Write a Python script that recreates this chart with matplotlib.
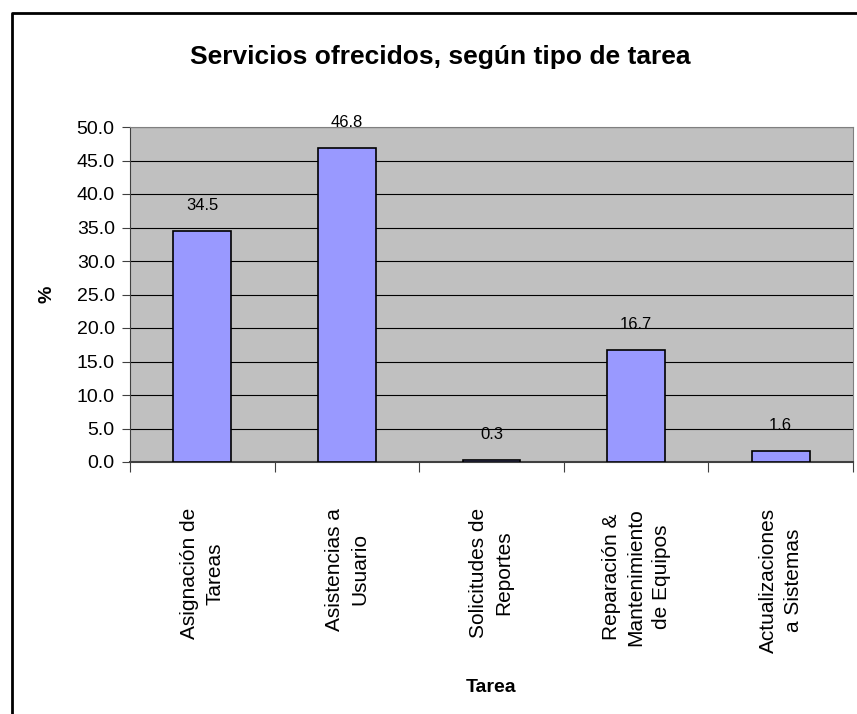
import matplotlib.pyplot as plt
from matplotlib.lines import Line2D
import numpy as np

plt.rcParams['font.family'] = ['Liberation Sans', 'DejaVu Sans']

categorias = ["Asignación de\nTareas", "Asistencias a\nUsuario", "Solicitudes de\nReportes",
              "Reparación &\nMantenimiento\nde Equipos", "Actualizaciones\na Sistemas"]
porcentajes = [34.5, 46.8, 0.3, 16.7, 1.6]
yticks = np.arange(0, 50.1, 5.0)

W, H = 857, 714
fig = plt.figure(figsize=(W / 100, H / 100), dpi=100)
fig.patch.set_facecolor('white')
# marco exterior (solo arriba e izquierda se ven)
fig.add_artist(Line2D([12 / W, 12 / W, 1], [0, 1 - 13 / H, 1 - 13 / H], transform=fig.transFigure,
                      color='black', linewidth=2.0))

ax = fig.add_axes([130 / W, (H - 462) / H, (853 - 130) / W, (462 - 127) / H])
ax.set_facecolor('#c0c0c0')
x = np.arange(len(categorias))
ax.bar(x, porcentajes, width=0.4, color='#9999ff', edgecolor='black', linewidth=1.2, zorder=3)
for xi, v in zip(x, porcentajes):
    ax.annotate(f"{v:.1f}", (xi, v), xytext=(0, 13), textcoords='offset points',
                ha='center', va='bottom', fontsize=12)

ax.set_xlim(-0.5, len(categorias) - 0.5)
ax.set_ylim(0, 50)
ax.set_yticks(yticks)
ax.set_yticklabels([f"{t:.1f}" for t in yticks], fontsize=14)
ax.yaxis.grid(True, color='black', linewidth=0.8, zorder=0)
ax.set_axisbelow(True)

ax.set_xticks(np.arange(-0.5, len(categorias), 1.0))
ax.set_xticklabels([])
ax.set_xticks(x, minor=True)
ax.set_xticklabels(categorias, minor=True, rotation=90, fontsize=15, va='top', ha='center',
                   multialignment='center', linespacing=1.4)
ax.tick_params(axis='x', which='minor', length=0, pad=33)
ax.tick_params(axis='x', which='major', length=7, color='#404040')
ax.tick_params(axis='y', length=6, color='#404040', pad=5)

for s in ['top', 'right']:
    ax.spines[s].set_color('#808080')
ax.spines['left'].set_color('#404040')
ax.spines['bottom'].set_color('#404040')
ax.spines['bottom'].set_linewidth(1.5)

ax.set_ylabel('%', fontsize=14, fontweight='bold', labelpad=15)
fig.text(491 / W, 1 - 688 / H, 'Tarea', ha='center', va='center', fontsize=14, fontweight='bold')
fig.text(440 / W, 1 - 57 / H, 'Servicios ofrecidos, según tipo de tarea', ha='center', va='center',
         fontsize=19, fontweight='bold')

fig.savefig('out.png', dpi=100)
